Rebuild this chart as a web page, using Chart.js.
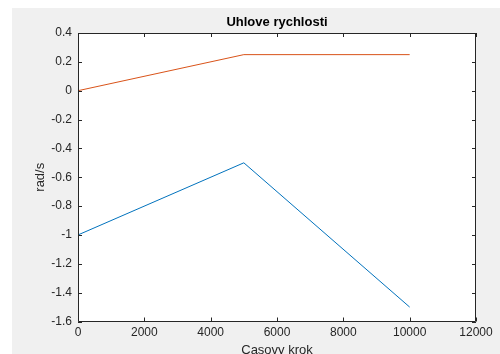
<!DOCTYPE html>
<html>
<head>
<meta charset="utf-8">
<script src="https://cdn.jsdelivr.net/npm/chart.js@4"></script>
<style>
  html, body { margin: 0; padding: 0; overflow: hidden; background: #fff; }
  canvas { display: block; }
</style>
</head>
<body>
<canvas id="myChart" width="500" height="362"></canvas>
<script>
// data
var steps = [0, 5000, 10000];
var omega1 = [-1, -0.5, -1.5];   // modra
var omega2 = [0, 0.25, 0.25];    // oranzova
var xTickStep = 2000;
var yTickStep = 0.2;

var axisColor = '#262626';
var fontFam = '"Liberation Sans", Arial, Helvetica, sans-serif';

function toPoints(ys){
  return steps.map(function(s, i){ return {x: s, y: ys[i]}; });
}

// pozadi figure + biela plocha osi
var figureBg = {
  id: 'figureBg',
  beforeDraw: function(chart){
    var c = chart.ctx, a = chart.chartArea;
    c.save();
    c.fillStyle = '#ffffff';
    c.fillRect(0, 0, chart.width, chart.height);
    c.fillStyle = '#f0f0f0';
    c.fillRect(12, 8, chart.width - 12, chart.height - 8);
    c.fillStyle = '#ffffff';
    c.fillRect(a.left, a.top, a.right - a.left, a.bottom - a.top);
    c.restore();
  }
};

// ramik a tick znacky dovnutra (ako matlab)
var matlabBox = {
  id: 'matlabBox',
  afterDatasetsDraw: function(chart){
    var c = chart.ctx, a = chart.chartArea;
    var xs = chart.scales.x, ys = chart.scales.y;
    var len = 4;
    c.save();
    c.strokeStyle = axisColor;
    c.lineWidth = 1;
    c.beginPath();
    c.rect(Math.round(a.left) + 0.5, Math.round(a.top) + 0.5,
           Math.round(a.right - a.left) - 1, Math.round(a.bottom - a.top) - 1);
    xs.ticks.forEach(function(t){
      var px = Math.round(xs.getPixelForValue(t.value)) + 0.5;
      c.moveTo(px, a.bottom); c.lineTo(px, a.bottom - len);
      c.moveTo(px, a.top); c.lineTo(px, a.top + len);
    });
    ys.ticks.forEach(function(t){
      var py = Math.round(ys.getPixelForValue(t.value)) + 0.5;
      c.moveTo(a.left, py); c.lineTo(a.left + len, py);
      c.moveTo(a.right, py); c.lineTo(a.right - len, py);
    });
    c.stroke();
    c.restore();
  }
};

new Chart(document.getElementById('myChart'), {
  type: 'scatter',
  data: {
    datasets: [
      {
        label: 'omega1',
        data: toPoints(omega1),
        showLine: true,
        borderColor: '#0072BD',
        borderWidth: 1,
        pointRadius: 0,
        fill: false
      },
      {
        label: 'omega2',
        data: toPoints(omega2),
        showLine: true,
        borderColor: '#D95319',
        borderWidth: 1,
        pointRadius: 0,
        fill: false
      }
    ]
  },
  options: {
    responsive: false,
    animation: false,
    devicePixelRatio: 1,
    layout: { padding: { left: 0, right: 24, top: 0, bottom: 0 } },
    plugins: {
      legend: { display: false },
      tooltip: { enabled: false },
      title: {
        display: true,
        fullSize: false,
        text: 'Uhlove rychlosti',
        color: '#000000',
        font: { family: fontFam, size: 13, weight: 'bold' },
        padding: { top: 14.2, bottom: 3.2 }
      }
    },
    scales: {
      x: {
        type: 'linear',
        position: 'bottom',
        min: 0,
        max: 12000,
        grid: { display: false, drawTicks: false },
        border: { display: false },
        ticks: {
          stepSize: xTickStep,
          color: axisColor,
          padding: 4,
          maxRotation: 0,
          autoSkip: false,
          font: { family: fontFam, size: 12 },
          callback: function(v){ return String(v); }
        },
        title: {
          display: true,
          text: 'Casovy krok',
          color: axisColor,
          font: { family: fontFam, size: 13 },
          padding: { top: 0, bottom: 4 }
        },
        afterFit: function(scale){ scale.height = 40.5; }
      },
      y: {
        type: 'linear',
        min: -1.6,
        max: 0.4,
        grid: { display: false, drawTicks: false },
        border: { display: false },
        ticks: {
          stepSize: yTickStep,
          color: axisColor,
          padding: 6,
          autoSkip: false,
          font: { family: fontFam, size: 12 },
          callback: function(v){ return String(Number(v.toFixed(1))); }
        },
        title: {
          display: true,
          text: 'rad/s',
          color: axisColor,
          font: { family: fontFam, size: 13 },
          padding: { top: 32.5, bottom: 0 }
        },
        afterFit: function(scale){ scale.width = 78; }
      }
    }
  },
  plugins: [figureBg, matlabBox]
});
</script>
</body>
</html>
